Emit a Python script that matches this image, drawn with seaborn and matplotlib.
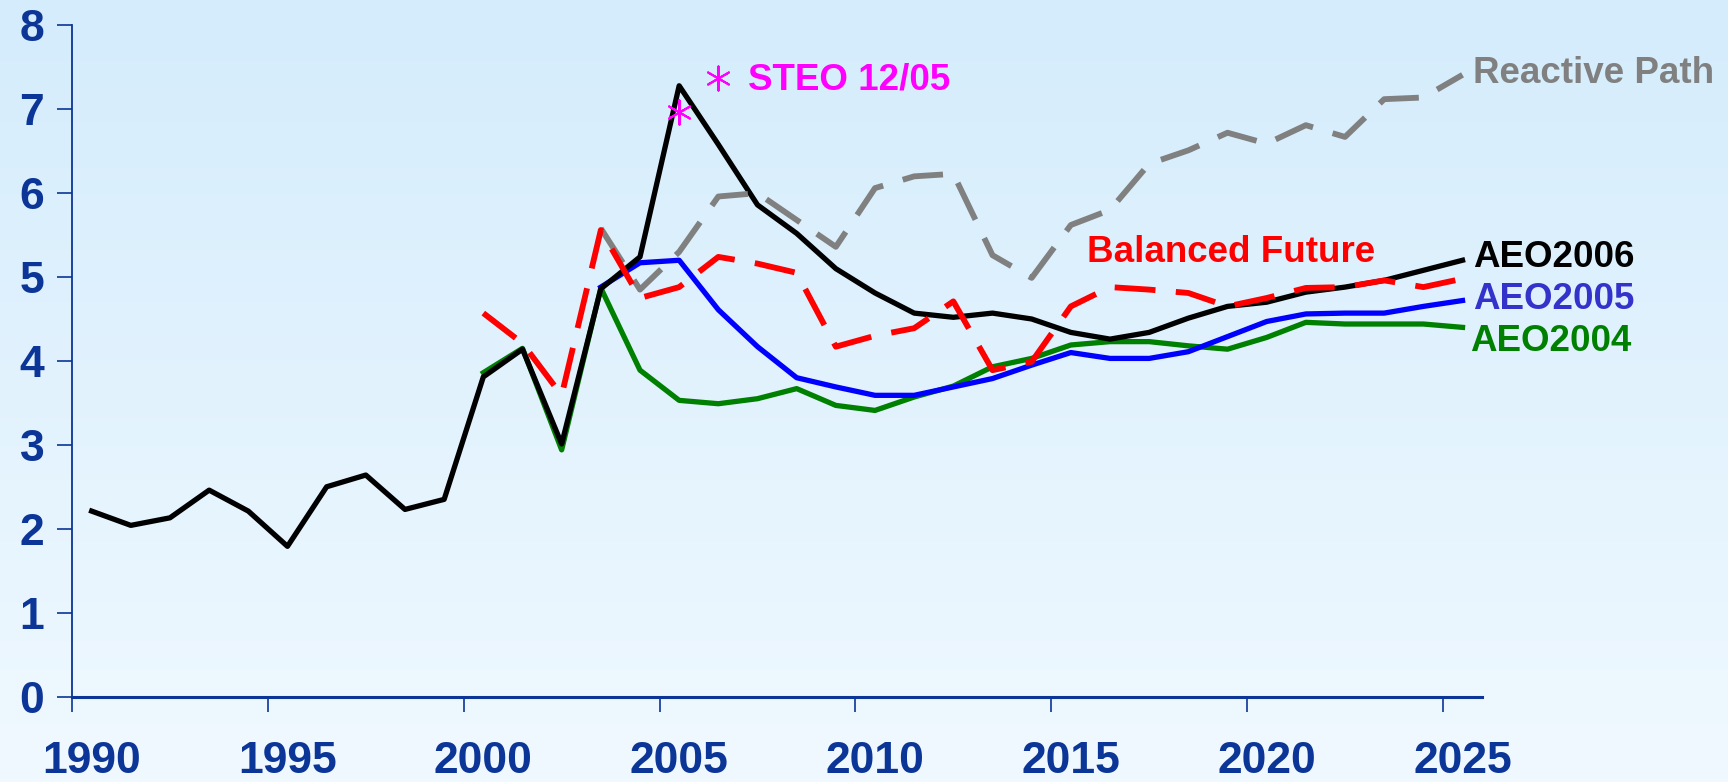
import numpy as np
import pandas as pd
import seaborn as sns
import matplotlib.pyplot as plt

# series (one value per year)
years_aeo2006 = list(range(1990, 2026))
aeo2006 = [2.21, 2.04, 2.13, 2.46, 2.21, 1.79, 2.50, 2.64, 2.23, 2.35,
           3.81, 4.14, 3.01, 4.86, 5.24, 7.28, 6.58, 5.86, 5.52, 5.10,
           4.81, 4.57, 4.52, 4.57, 4.50, 4.34, 4.26, 4.34, 4.51, 4.65,
           4.70, 4.82, 4.88, 4.96, 5.08, 5.20]

years_aeo2005 = list(range(2003, 2026))
aeo2005 = [4.88, 5.17, 5.20, 4.61, 4.17, 3.80, 3.69, 3.59, 3.59, 3.69,
           3.79, 3.95, 4.10, 4.03, 4.03, 4.11, 4.29, 4.47, 4.56, 4.57,
           4.57, 4.65, 4.72]

years_aeo2004 = list(range(2000, 2026))
aeo2004 = [3.86, 4.15, 2.94, 4.87, 3.89, 3.53, 3.49, 3.55, 3.67, 3.47,
           3.41, 3.57, 3.70, 3.93, 4.03, 4.19, 4.23, 4.23, 4.18, 4.14,
           4.28, 4.46, 4.44, 4.44, 4.44, 4.40]

years_balanced = list(range(2000, 2026))
balanced = [4.57, 4.21, 3.59, 5.56, 4.75, 4.88, 5.24, 5.16, 5.05, 4.17,
            4.30, 4.39, 4.71, 3.89, 3.99, 4.65, 4.88, 4.85, 4.81, 4.65,
            4.75, 4.87, 4.88, 4.96, 4.88, 4.98]

years_reactive = list(range(2003, 2026))
reactive = [5.58, 4.85, 5.30, 5.96, 6.00, 5.68, 5.36, 6.06, 6.20, 6.23,
            5.26, 4.99, 5.62, 5.80, 6.35, 6.51, 6.72, 6.59, 6.81, 6.67,
            7.12, 7.14, 7.41]

steo_year = [2005]
steo = [6.97]

tick_years = [1990, 1995, 2000, 2005, 2010, 2015, 2020, 2025]

axis_blue = '#0b3596'

plt.rcParams['font.family'] = ['Liberation Sans', 'DejaVu Sans']
plt.rcParams['font.weight'] = 'bold'

fig = plt.figure(figsize=(17.28, 7.82), dpi=100)

# gradient background
bg = fig.add_axes([0, 0, 1, 1], zorder=-10)
top = np.array([212, 236, 252]) / 255
bottom = np.array([240, 249, 255]) / 255
t = np.linspace(0, 1, 256)[:, None]
grad = top[None, :] * (1 - t) + bottom[None, :] * t
bg.imshow(grad[:, None, :], aspect='auto', extent=[0, 1, 0, 1])
bg.axis('off')

ax = fig.add_axes([0.0417, 0.1093, 0.8160, 0.8583])
ax.patch.set_alpha(0)


def draw(years, vals, color, lw, ls='-', z=2):
    df = pd.DataFrame({'year': np.array(years) + 0.5, 'val': vals})
    sns.lineplot(data=df, x='year', y='val', ax=ax, color=color, lw=lw,
                 estimator=None, linestyle=ls, zorder=z)


draw(years_aeo2004, aeo2004, '#008000', 3.8, z=2)
draw(years_aeo2005, aeo2005, '#0000ff', 3.8, z=3)
draw(years_aeo2006, aeo2006, '#000000', 3.8, z=4)
draw(years_reactive, reactive, '#808080', 4.2, ls=(0, (7, 3.5)), z=5)
draw(years_balanced, balanced, '#ff0000', 4.2, ls=(0, (7, 3.5)), z=6)

sns.scatterplot(x=np.array(steo_year) + 0.5, y=steo, ax=ax, marker=(6, 2, 0),
                s=300, color='#ff00ff', linewidth=1.5, zorder=7)
ax.scatter([2006.49], [7.37], marker=(6, 2, 0), s=300, color='#ff00ff',
           linewidth=1.5, clip_on=False, zorder=7)

lab_size = 26.5
ax.text(2007.25, 7.35, 'STEO 12/05', color='#ff00ff', fontsize=lab_size,
        fontweight='bold', va='center', ha='left')
ax.text(2025.78, 7.42, 'Reactive Path', color='#808080', fontsize=lab_size,
        fontweight='bold', va='center', ha='left')
ax.text(2015.9, 5.29, 'Balanced Future', color='#ff0000', fontsize=lab_size,
        fontweight='bold', va='center', ha='left')
ax.text(2025.78, 5.23, 'AEO2006', color='#000000', fontsize=lab_size,
        fontweight='bold', va='center', ha='left')
ax.text(2025.78, 4.73, 'AEO2005', color='#3333cc', fontsize=lab_size,
        fontweight='bold', va='center', ha='left')
ax.text(2025.7, 4.23, 'AEO2004', color='#008000', fontsize=lab_size,
        fontweight='bold', va='center', ha='left')

ax.set_xlim(1990, 2026)
ax.set_ylim(0, 8)
ax.set_xlabel('')
ax.set_ylabel('')

# major ticks at year boundaries, labels centred on the year
ax.set_xticks(tick_years)
ax.set_xticklabels([])
ax.set_xticks([y + 0.5 for y in tick_years], minor=True)
ax.set_xticklabels([str(y) for y in tick_years], minor=True)
ax.tick_params(axis='x', which='major', direction='out', length=11,
               width=1.2, color=axis_blue)
ax.tick_params(axis='x', which='minor', length=0, pad=32, labelsize=32,
               labelcolor=axis_blue)
ax.set_yticks(range(0, 9))
ax.tick_params(axis='y', direction='out', length=11, width=1.2,
               color=axis_blue, labelsize=32, labelcolor=axis_blue, pad=9)
for lab in ax.get_xticklabels(minor=True) + ax.get_yticklabels():
    lab.set_fontweight('bold')

for s in ['top', 'right']:
    ax.spines[s].set_visible(False)
ax.spines['left'].set_color(axis_blue)
ax.spines['left'].set_linewidth(1.3)
ax.spines['bottom'].set_color(axis_blue)
ax.spines['bottom'].set_linewidth(2.2)
ax.grid(False)

fig.savefig('out.png', dpi=100)
